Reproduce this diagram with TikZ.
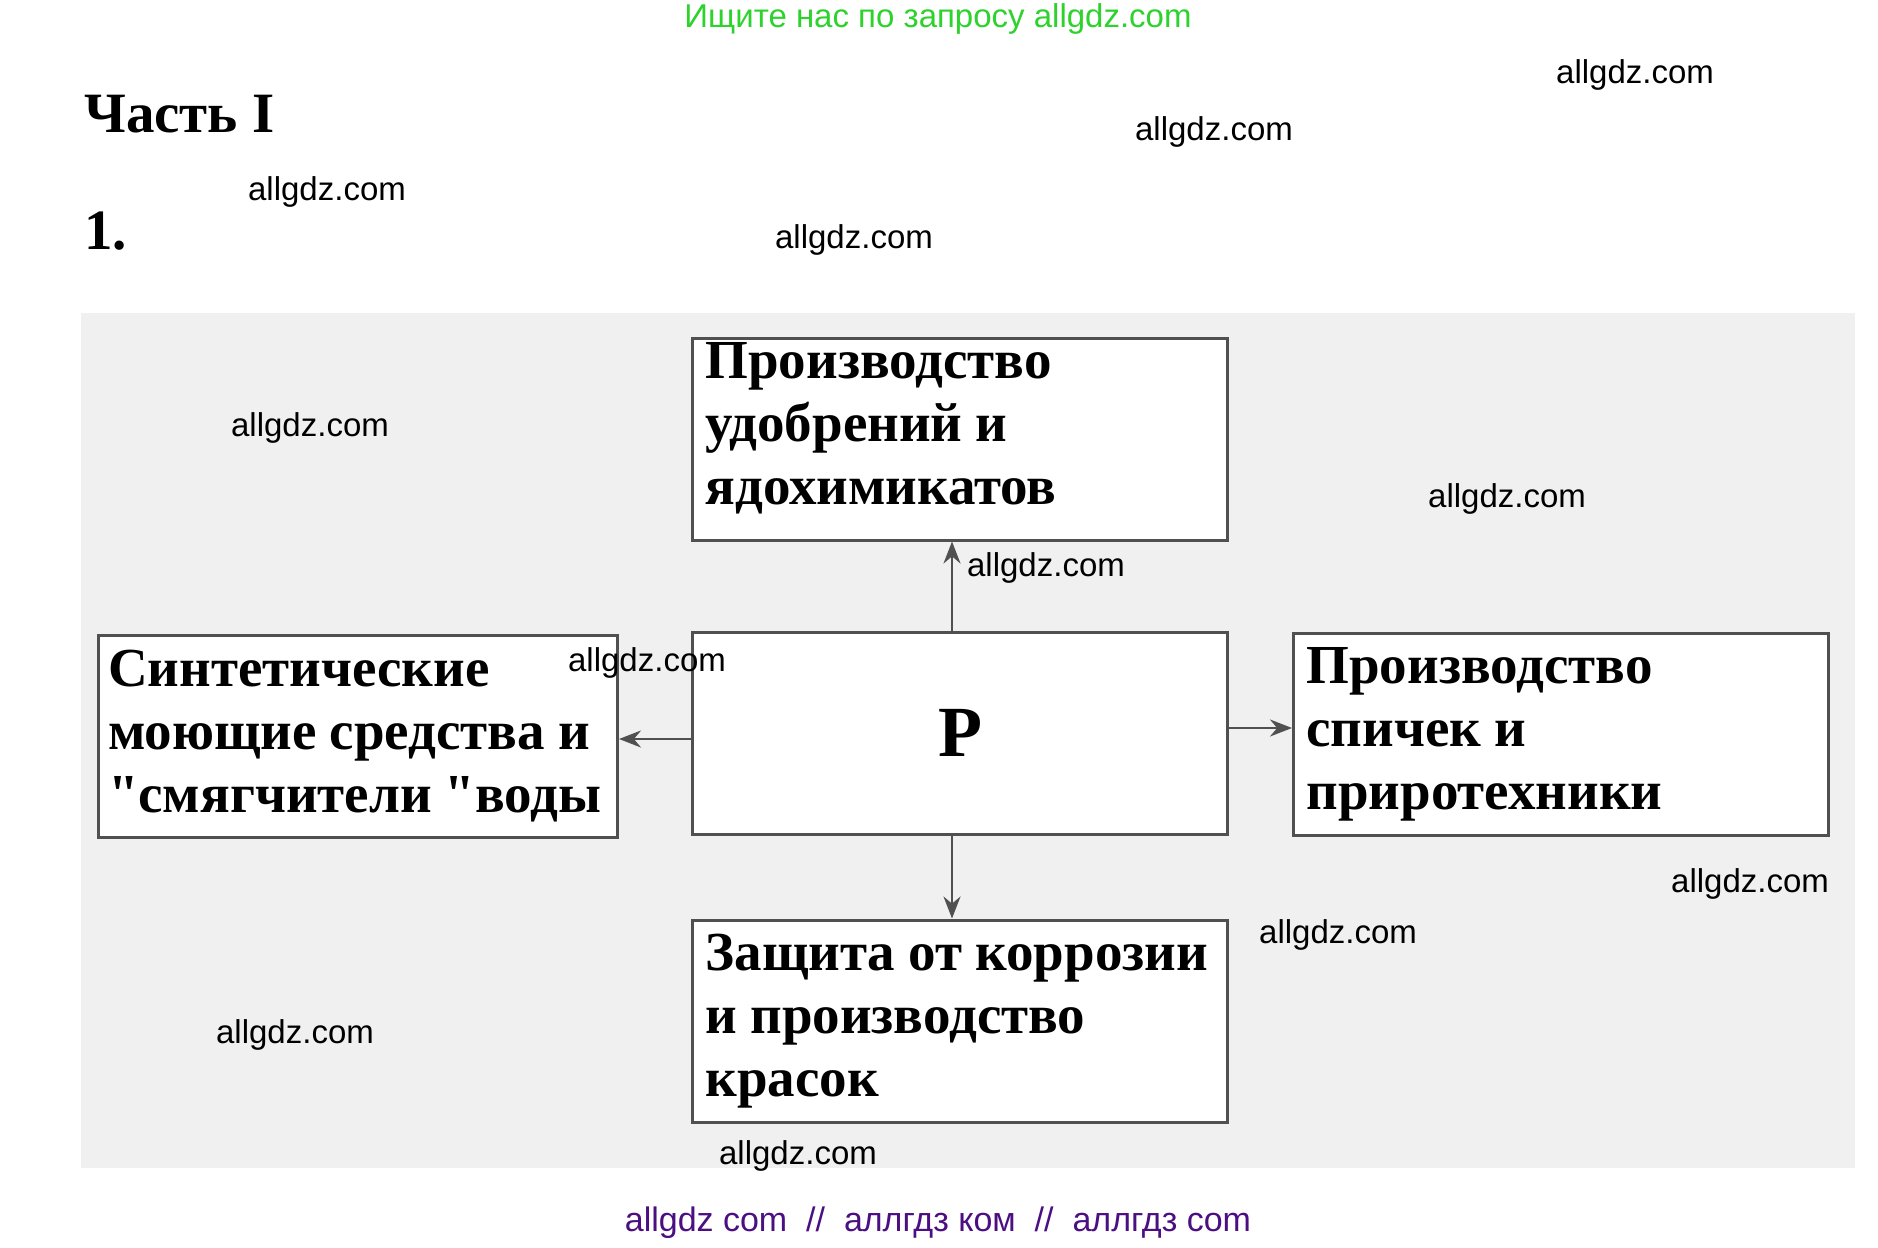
\documentclass[tikz,border=0pt]{standalone}
\usepackage{fontspec}
\setmainfont{Liberation Serif}
\newfontfamily\wmfont{Liberation Sans}
\newfontfamily\boxfont{Liberation Serif}
\usetikzlibrary{arrows.meta}
\definecolor{hintgreen}{RGB}{45,210,45}
\definecolor{footviolet}{RGB}{75,15,130}
\definecolor{scangray}{RGB}{240,240,240}
\definecolor{boxline}{RGB}{80,80,80}
\tikzset{
  usebox/.style={draw=boxline, line width=3pt, fill=white, minimum width=535pt,
    minimum height=202pt, text width=509pt, align=left, inner xsep=12pt,
    font=\boxfont\bfseries\fontsize{55}{63}\selectfont,
    execute at begin node={\spaceskip=0.24em\relax}},
  usearrow/.style={draw=boxline, line width=2.2pt, -{Stealth[length=22pt,width=17pt]}},
  wmark/.style={font=\wmfont\fontsize{33}{38}\selectfont, inner sep=0pt}
}
\begin{document}
\begin{tikzpicture}[x=1pt,y=-1pt]
\useasboundingbox (0,0) rectangle (1878,1247);
% scanned page
\fill[scangray] (81,313) rectangle (1855,1168);
% headings
\node[font=\wmfont\fontsize{33}{38}\selectfont, text=hintgreen] (hint) at (938,19) {Ищите нас по запросу allgdz.com};
\node[font=\bfseries\fontsize{57}{60}\selectfont, anchor=west, inner sep=0pt] (part) at (84,114) {Часть I};
\node[font=\bfseries\fontsize{57}{60}\selectfont, anchor=west, inner sep=0pt] (num) at (84,231) {1.};
% boxes
\node[usebox, font=\boxfont\bfseries\fontsize{72}{80}\selectfont, align=center] (P) at (960,733) {P};
\node[usebox, text height=14pt] (fert) at (960,439) {Производство\\удобрений и\\ядохимикатов};
\node[usebox, minimum width=519pt, text width=500pt, inner xsep=9.5pt] (deter) at (358,736) {Синтетические\\моющие средства и\\"смягчители "воды};
\node[usebox] (match) at (1561,734) {Производство\\спичек и\\приротехники};
\node[usebox] (paint) at (960,1021) {Защита от коррозии\\и производство\\красок};
% connectors
\draw[usearrow] (P.north -| 952,0) -- (fert.south -| 952,0);
\draw[usearrow] (P.south -| 952,0) -- (paint.north -| 952,0);
\draw[usearrow] (P.west |- 0,739) -- (deter.east |- 0,739);
\draw[usearrow] (P.east |- 0,728) -- (match.west |- 0,728);
% watermarks
\node[wmark] (w1) at (1635,75) {allgdz.com};
\node[wmark] (w2) at (1214,132) {allgdz.com};
\node[wmark] (w3) at (327,192) {allgdz.com};
\node[wmark] (w4) at (854,240) {allgdz.com};
\node[wmark] (w5) at (310,428) {allgdz.com};
\node[wmark] (w6) at (1507,499) {allgdz.com};
\node[wmark] (w7) at (1046,568) {allgdz.com};
\node[wmark] (w8) at (647,663) {allgdz.com};
\node[wmark] (w9) at (1750,884) {allgdz.com};
\node[wmark] (w10) at (1338,935) {allgdz.com};
\node[wmark] (w11) at (295,1035) {allgdz.com};
\node[wmark] (w12) at (798,1156) {allgdz.com};
\node[font=\wmfont\fontsize{34}{38}\selectfont, text=footviolet] (foot) at (938,1223) {allgdz com \ // \ аллгдз ком \ // \ аллгдз com};
\end{tikzpicture}
\end{document}
